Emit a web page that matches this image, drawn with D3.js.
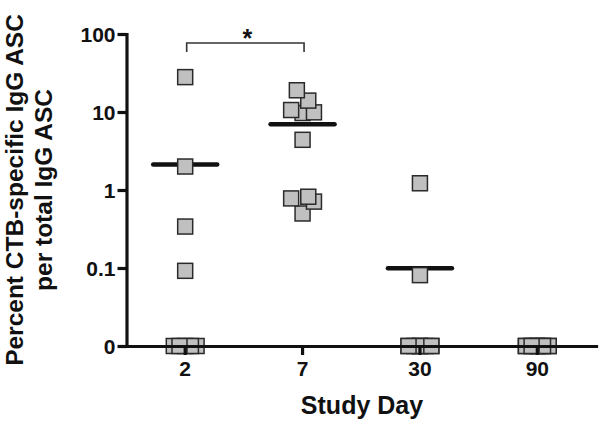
<!DOCTYPE html>
<html>
<head>
<meta charset="utf-8">
<script src="https://cdn.jsdelivr.net/npm/d3@7"></script>
<style>
  html, body { margin: 0; padding: 0; background: #fff; }
  svg { display: block; }
  text { font-family: "Liberation Sans", Arial, Helvetica, sans-serif; font-weight: bold; fill: #111; }
</style>
</head>
<body>
<svg id="chart" width="600" height="424"></svg>
<script>
// ---- data ----
const days = ["2", "7", "30", "90"];
const day2Values  = [28, 2.0, 0.34, 0.092, 0, 0, 0, 0, 0];
const day7Values  = [19, 14, 10.6, 9.9, 9.7, 4.4, 0.82, 0.78, 0.71, 0.50];
const day30Values = [1.22, 0.081, 0, 0, 0, 0, 0, 0, 0, 0];
const day90Values = [0, 0, 0, 0, 0, 0, 0, 0, 0, 0];
const medianValues = [2.13, 6.95, 0.099, null];
const yTickValues = [0.01, 0.1, 1, 10, 100];
const yTickLabels = ["0", "0.1", "1", "10", "100"];
const xAxisTitle = "Study Day";
const yAxisTitleLines = ["Percent CTB-specific IgG ASC", "per total IgG ASC"];
const significance = { from: "2", to: "7", label: "*" };

const seriesByDay = [day2Values, day7Values, day30Values, day90Values];

(function draw() {
  // ---- layout ----
  const svg = d3.select("#chart");
  const mLeft = 126.5, mRight = 596, mTop = 34, mBottom = 346;
  const zeroValue = 0.01;           // where zero values are drawn (the "0" tick)
  const sq = 15, slotStep = 5.7;
  const slotOrder = [0, 2, -2, 1, -1];

  const x = d3.scaleBand().domain(days).range([mLeft, mRight]);
  const y = d3.scaleLog().domain([zeroValue, 100]).range([mBottom, mTop]);
  const cx = d => x(d) + x.bandwidth() / 2;
  const yPos = v => y(v > 0 ? v : zeroValue);

  // ---- median lines (under the points) ----
  const medData = days.map((d, i) => ({ day: d, v: medianValues[i] })).filter(d => d.v != null);
  svg.append("g").selectAll("line").data(medData).join("line")
    .attr("x1", d => cx(d.day) - 32).attr("x2", d => cx(d.day) + 32)
    .attr("y1", d => y(d.v)).attr("y2", d => y(d.v))
    .attr("stroke", "#111").attr("stroke-width", 4.5).attr("stroke-linecap", "round");

  // ---- swarm layout of points ----
  const points = [];
  days.forEach((d, i) => {
    const pts = seriesByDay[i].map(v => ({ day: d, v, py: yPos(v) }))
      .sort((a, b) => b.py - a.py);       // ascending value
    let row = [], prev = null;
    const flush = () => { row.forEach((p, k) => { p.off = slotOrder[k % slotOrder.length] * slotStep; }); row = []; };
    pts.forEach(p => {
      if (prev !== null && Math.abs(prev - p.py) >= sq) flush();
      row.push(p); prev = p.py;
    });
    flush();
    pts.forEach(p => points.push(p));
  });

  svg.append("g").selectAll("rect").data(points).join("rect")
    .attr("x", d => cx(d.day) + d.off - sq / 2)
    .attr("y", d => d.py - sq / 2)
    .attr("width", sq).attr("height", sq)
    .attr("fill", "#c0c0c0").attr("stroke", "#2a2a2a").attr("stroke-width", 1.5);

  // ---- axes ----
  const yAxis = d3.axisLeft(y).tickValues(yTickValues)
    .tickFormat((d, i) => yTickLabels[i]).tickSize(9).tickSizeOuter(0).tickPadding(2);
  const gy = svg.append("g").attr("transform", `translate(${mLeft},0)`).call(yAxis);

  const xAxis = d3.axisBottom(x).tickSize(9).tickSizeOuter(0).tickPadding(6);
  const gx = svg.append("g").attr("transform", `translate(0,${mBottom})`).call(xAxis);

  [gx, gy].forEach(g => {
    g.select(".domain").attr("stroke", "#111").attr("stroke-width", 3.2).attr("stroke-linecap", "square");
    g.selectAll(".tick line").attr("stroke", "#111").attr("stroke-width", 3.2);
    g.selectAll(".tick text").attr("font-size", 21).attr("fill", "#111")
      .style("font-family", '"Liberation Sans", Arial, sans-serif').style("font-weight", "bold");
  });
  gy.selectAll(".tick text").attr("dy", "0.36em");

  // ---- axis titles ----
  svg.append("text").attr("x", 362).attr("y", 414).attr("text-anchor", "middle")
    .attr("font-size", 25).text(xAxisTitle);

  const ymid = (mTop + mBottom) / 2;
  [23, 52].forEach((bx, i) => {
    svg.append("text").attr("transform", `translate(${bx},${ymid}) rotate(-90)`)
      .attr("text-anchor", "middle").attr("font-size", 24.5).text(yAxisTitleLines[i]);
  });

  // ---- significance bracket ----
  const bx1 = cx(significance.from) + 1.5, bx2 = cx(significance.to) + 1.5;
  svg.append("path")
    .attr("d", `M${bx1},52 V43 H${bx2} V52`)
    .attr("fill", "none").attr("stroke", "#333").attr("stroke-width", 1.6);
  svg.append("text").attr("x", (bx1 + bx2) / 2 + 2).attr("y", 47).attr("text-anchor", "middle")
    .attr("font-size", 25).text(significance.label);
})();
</script>
</body>
</html>
